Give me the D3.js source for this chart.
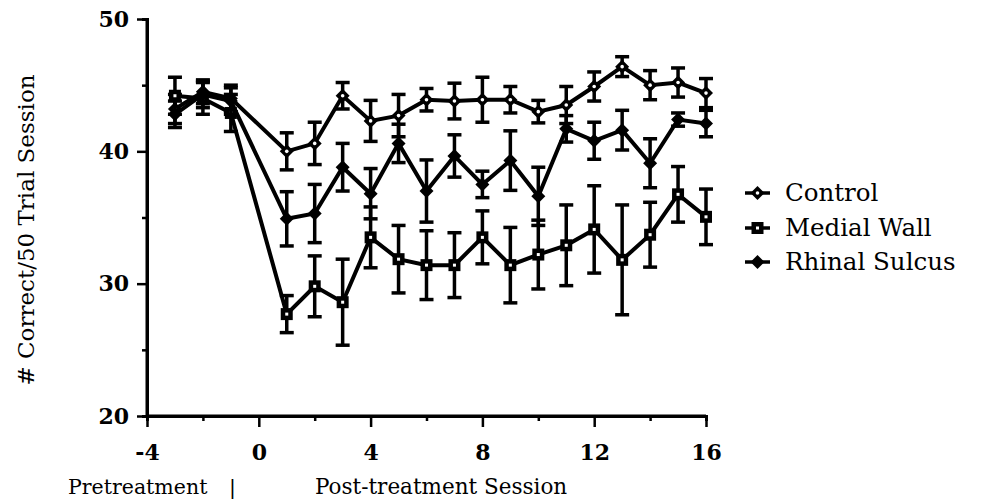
<!DOCTYPE html>
<html><head><meta charset="utf-8">
<script src="https://cdn.jsdelivr.net/npm/d3@7"></script>
<style>body{margin:0;background:#fff}svg{display:block}</style>
</head><body>
<script>
const sessions   = [-3, -2, -1, 1, 2, 3, 4, 5, 6, 7, 8, 9, 10, 11, 12, 13, 14, 15, 16];
const control    = [43.2, 44.5, 44.0, 40.0, 40.6, 44.2, 42.3, 42.7, 43.9, 43.8, 43.9, 43.9, 43.0, 43.5, 44.9, 46.4, 45.0, 45.2, 44.4];
const controlErr = [1.1, 0.9, 1.0, 1.4, 1.6, 1.0, 1.55, 1.6, 0.85, 1.35, 1.7, 1.0, 0.85, 1.4, 1.1, 0.75, 1.1, 1.1, 1.1];
const medial     = [44.2, 44.0, 42.9, 27.7, 29.8, 28.6, 33.5, 31.85, 31.4, 31.4, 33.5, 31.4, 32.2, 32.9, 34.1, 31.8, 33.7, 36.75, 35.05];
const medialErr  = [1.4, 1.2, 1.4, 1.4, 2.3, 3.25, 2.3, 2.55, 2.6, 2.45, 2.0, 2.85, 2.6, 3.05, 3.3, 4.15, 2.45, 2.1, 2.1];
const rhinal     = [42.8, 44.3, 43.8, 34.9, 35.3, 38.8, 36.8, 40.6, 37.0, 39.65, 37.5, 39.3, 36.6, 41.7, 40.8, 41.6, 39.1, 42.4, 42.1];
const rhinalErr  = [1.0, 1.0, 1.0, 2.05, 2.2, 1.8, 1.9, 1.45, 2.35, 1.6, 1.0, 2.25, 2.2, 1.0, 1.4, 1.5, 1.85, 0.5, 1.0];
const xTicks = [-4, 0, 4, 8, 12, 16];
const xMinor = [-2, 2, 6, 10, 14];
const yTicks = [20, 30, 40, 50];
const yMinor = [25, 35, 45];
const seriesNames = ["Control", "Medial Wall", "Rhinal Sulcus"];

const W = 996, H = 499;
const svg = d3.select("body").append("svg").attr("width", W).attr("height", H);
const x = d3.scaleLinear().domain([-4, 16]).range([147, 706]);
const y = d3.scaleLinear().domain([20, 50]).range([416, 19]);
const FONT = "'DejaVu Serif', 'Liberation Serif', serif";
const fmt = d => d < 0 ? "-" + Math.abs(d) : String(d);

// axes
const xAxis = d3.axisBottom(x).tickValues(xTicks).tickSize(11).tickPadding(17).tickFormat(fmt);
const gx = svg.append("g").attr("transform", `translate(0,${y(20)})`).call(xAxis);
svg.append("g").attr("transform", `translate(0,${y(20)})`)
  .call(d3.axisBottom(x).tickValues(xMinor).tickSize(5).tickFormat(""));
const gy = svg.append("g").attr("transform", `translate(${x(-4)},0)`)
  .call(d3.axisLeft(y).tickValues(yTicks).tickSize(10).tickPadding(8).tickFormat(fmt));
svg.append("g").attr("transform", `translate(${x(-4)},0)`)
  .call(d3.axisLeft(y).tickValues(yMinor).tickSize(5).tickFormat(""));
svg.selectAll(".domain").attr("stroke", "#000").attr("stroke-width", 3);
svg.selectAll(".tick line").attr("stroke", "#000").attr("stroke-width", 2.5);
gx.select(".domain").attr("d", `M${x(-4)},0H${x(16)}`);
gy.select(".domain").attr("d", `M0,${y(20)}V${y(50)}`);
svg.selectAll(".tick text").attr("font-family", FONT).attr("font-size", 22).attr("font-weight", "bold").attr("fill", "#000");

// axis titles
svg.append("text").attr("transform", `translate(34,230) rotate(-90)`)
  .attr("text-anchor", "middle").attr("font-family", FONT).attr("font-size", 23).text("# Correct/50 Trial Session");
svg.append("text").attr("x", 68).attr("y", 494).attr("font-family", FONT).attr("font-size", 20.5).text("Pretreatment");
svg.append("text").attr("x", 229).attr("y", 494).attr("font-family", FONT).attr("font-size", 20.5).text("|");
svg.append("text").attr("x", 315).attr("y", 494).attr("font-family", FONT).attr("font-size", 21.5).text("Post-treatment Session");

const series = [
  {name: seriesNames[0], v: control, e: controlErr, m: "diamondOpen"},
  {name: seriesNames[1], v: medial, e: medialErr, m: "square"},
  {name: seriesNames[2], v: rhinal, e: rhinalErr, m: "diamond"}
];

const line = d3.line().x(d => x(d[0])).y(d => y(d[1]));

function marker(g, type, cx, cy) {
  if (type === "square") {
    g.append("rect").attr("x", cx - 6).attr("y", cy - 6).attr("width", 12).attr("height", 12).attr("fill", "#000");
    g.append("rect").attr("x", cx - 1.5).attr("y", cy - 1.5).attr("width", 3).attr("height", 3).attr("fill", "#fff");
  } else {
    g.append("path").attr("d", `M${cx},${cy-7}L${cx+7},${cy}L${cx},${cy+7}L${cx-7},${cy}Z`).attr("fill", "#000");
    if (type === "diamondOpen") g.append("circle").attr("cx", cx).attr("cy", cy).attr("r", 1.8).attr("fill", "#fff");
  }
}

series.forEach(s => {
  const g = svg.append("g");
  const pts = sessions.map((t, i) => [t, s.v[i], s.e[i]]);
  pts.forEach(p => {
    const cx = x(p[0]);
    g.append("line").attr("x1", cx).attr("x2", cx).attr("y1", y(p[1] + p[2])).attr("y2", y(p[1] - p[2]))
      .attr("stroke", "#000").attr("stroke-width", 3.5);
    [p[1] + p[2], p[1] - p[2]].forEach(v => {
      g.append("line").attr("x1", cx - 7).attr("x2", cx + 7).attr("y1", y(v)).attr("y2", y(v))
        .attr("stroke", "#000").attr("stroke-width", 3.5);
    });
  });
  g.append("path").datum(pts).attr("d", line).attr("fill", "none").attr("stroke", "#000").attr("stroke-width", 4);
  pts.forEach(p => marker(g, s.m, x(p[0]), y(p[1])));
});

// legend
const legY = [193, 228, 262];
series.forEach((s, i) => {
  const g = svg.append("g");
  g.append("line").attr("x1", 745).attr("x2", 770).attr("y1", legY[i]).attr("y2", legY[i]).attr("stroke", "#000").attr("stroke-width", 3.5);
  marker(g, s.m, 757.5, legY[i]);
  g.append("text").attr("x", 785).attr("y", legY[i] + 8).attr("font-family", FONT).attr("font-size", 24.5).text(s.name);
});
</script>
</body></html>
